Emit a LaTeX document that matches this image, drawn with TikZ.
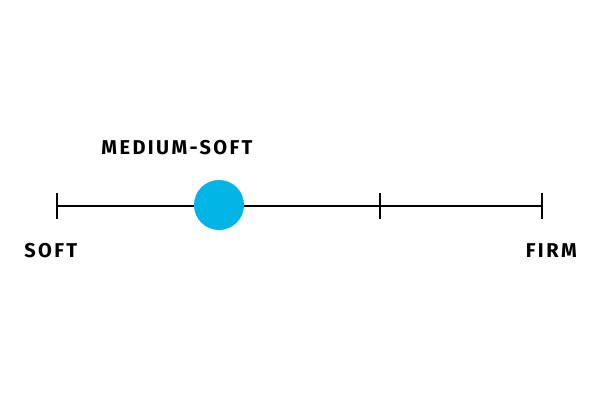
\documentclass[tikz,border=0pt]{standalone}
\usepackage{fontspec}
\setmainfont{Fira Sans}[LetterSpace=12]
\definecolor{dot}{HTML}{00B4E6}
\begin{document}
\begin{tikzpicture}[x=0.75pt,y=-0.75pt,
  lbl/.style={font=\fontsize{15}{18}\selectfont\bfseries,inner sep=0pt},
  tick/.style={line width=1.2pt}]
\useasboundingbox (0,0) rectangle (600,400);
\coordinate (a) at (57,206);
\coordinate (b) at (542,206);
\draw[tick] (a) -- (b);
\foreach \x in {57,380,542} \draw[tick] (\x,193) -- (\x,219);
\node[circle,fill=dot,minimum size=37.5pt,inner sep=0pt] (m) at (219,205) {};
\node[lbl] (mt) at (177,148) {MEDIUM-SOFT};
\node[lbl,anchor=west] (s) at (24,251) {SOFT};
\node[lbl,anchor=east] (f) at (577,251) {FIRM};
\end{tikzpicture}
\end{document}
